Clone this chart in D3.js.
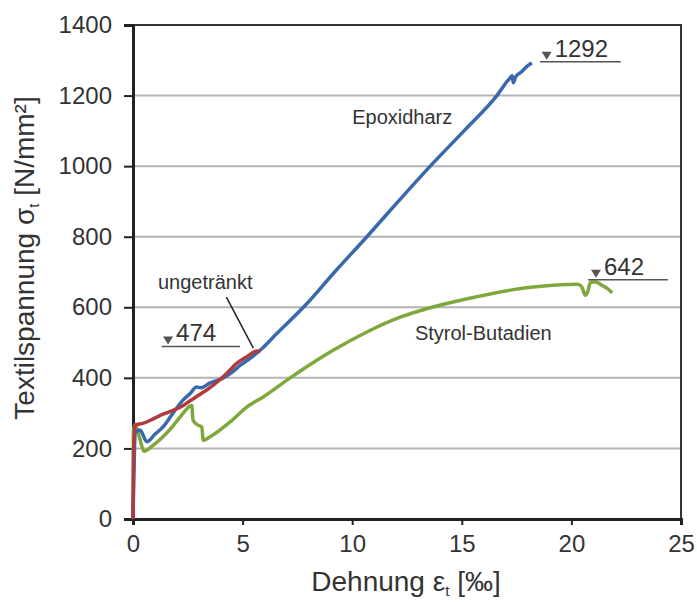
<!DOCTYPE html>
<html>
<head>
<meta charset="utf-8">
<script src="https://cdn.jsdelivr.net/npm/d3@7/dist/d3.min.js"></script>
<style>
  body { margin: 0; background: #fff; }
  svg { display: block; font-family: "Liberation Sans", Arial, sans-serif; }
</style>
</head>
<body>
<svg width="697" height="603"></svg>
<script>
// strain [‰] and stress [N/mm²]
const epoxyX = [0, 0.05, 0.1, 0.32, 0.63, 1.0, 1.37, 1.8, 2.28, 2.6, 2.9, 3.1, 3.5, 4.1, 4.5, 4.9, 5.4, 5.95, 6.5, 7.85, 9.2, 10.67, 12.1, 13.56, 15.1, 16.6, 17.2, 17.3, 17.35, 17.45, 17.7, 18.0, 18.2];
const epoxyY = [0, 150, 245, 252, 219, 240, 261, 298, 337, 355, 374, 372, 385, 399, 415, 436, 458, 487, 522, 605, 700, 800, 900, 1000, 1100, 1200, 1250, 1256, 1236, 1252, 1266, 1284, 1292];

const dryX = [0, 0.03, 0.1, 0.45, 0.9, 1.37, 1.83, 2.2, 2.6, 3.1, 3.65, 4.2, 4.73, 5.2, 5.65, 5.8];
const dryY = [0, 200, 266, 271, 283, 297, 308, 318, 335, 355, 379, 408, 441, 460, 476, 474];

const sbrX = [0, 0.02, 0.1, 0.3, 0.5, 0.9, 1.37, 1.8, 2.15, 2.68, 2.74, 2.97, 3.14, 3.2, 3.52, 4.43, 5.2, 5.94, 7.17, 7.6, 9.13, 10.67, 12.19, 13.4, 15.24, 17.35, 19.5, 20.25, 20.45, 20.64, 20.75, 20.87, 21.1, 21.4, 21.6, 21.86];
const sbrY = [0, 250, 268, 230, 192, 208, 233, 262, 289, 322, 280, 266, 261, 223, 233, 275, 318, 346, 400, 418, 478, 530, 572, 596, 624, 650, 664, 665, 660, 634, 645, 671, 672, 662, 655, 641];

const xTicks = [0, 5, 10, 15, 20, 25];
const yTicks = [0, 200, 400, 600, 800, 1000, 1200, 1400];

// curve names and where they sit (data units)
const curveLabels = ["Epoxidharz", "ungetränkt", "Styrol-Butadien"];
const curveLabelX = [10.0, 1.14, 12.86];
const curveLabelY = [1120, 653, 506];

// max stress markers: value, triangle at x, underline from..to, underline level
const maxLabels = ["474", "1292", "642"];
const maxTriX = [1.6, 18.87, 21.12];
const maxLineFrom = [1.31, 18.57, 20.76];
const maxLineTo = [4.88, 22.25, 24.4];
const maxLineY = [489, 1296, 678];

const svg = d3.select("svg");
const margin = { top: 25, right: 16, bottom: 84, left: 133 };
const W = 697, H = 603;

const x = d3.scaleLinear().domain([0, 25]).range([margin.left, W - margin.right]);
const y = d3.scaleLinear().domain([0, 1400]).range([H - margin.bottom, margin.top]);

// grid
svg.append("g")
  .selectAll("line")
  .data(yTicks.slice(1, -1))
  .enter()
  .append("line")
  .attr("x1", x(0)).attr("x2", x(25))
  .attr("y1", d => y(d)).attr("y2", d => y(d))
  .attr("stroke", "#b4b4b4")
  .attr("stroke-width", 2);

// frame top / right
svg.append("path")
  .attr("d", `M${x(0)},${y(1400)}H${x(25)}V${y(0)}`)
  .attr("fill", "none")
  .attr("stroke", "#333")
  .attr("stroke-width", 2);

const yAxis = svg.append("g")
  .attr("transform", `translate(${x(0)},0)`)
  .call(d3.axisLeft(y).tickValues(yTicks).tickFormat(d3.format("d")).tickSize(9).tickPadding(12));
const xAxis = svg.append("g")
  .attr("transform", `translate(0,${y(0)})`)
  .call(d3.axisBottom(x).tickValues(xTicks).tickFormat(d3.format("d")).tickSize(6).tickPadding(10));

[yAxis, xAxis].forEach(a => {
  a.select(".domain").attr("stroke", "#222").attr("stroke-width", 3);
  a.selectAll(".tick line").attr("stroke", "#222").attr("stroke-width", 2);
  a.selectAll(".tick text")
    .attr("fill", "#333")
    .attr("font-size", 24)
    .attr("font-family", "Liberation Sans, Arial, sans-serif");
});

// curves
const line = d3.line().curve(d3.curveMonotoneX).x(d => x(d[0])).y(d => y(d[1]));
const series = [
  { xs: sbrX, ys: sbrY, color: "#7fa83c" },
  { xs: epoxyX, ys: epoxyY, color: "#3a68ad" },
  { xs: dryX, ys: dryY, color: "#b03a3e" }
];
svg.append("g")
  .selectAll("path")
  .data(series)
  .enter()
  .append("path")
  .attr("d", s => line(s.xs.map((v, i) => [v, s.ys[i]])))
  .attr("fill", "none")
  .attr("stroke", s => s.color)
  .attr("stroke-width", 3.5)
  .attr("stroke-linejoin", "round");

// curve labels
svg.append("g")
  .selectAll("text")
  .data(curveLabels)
  .enter()
  .append("text")
  .attr("x", (d, i) => x(curveLabelX[i]))
  .attr("y", (d, i) => y(curveLabelY[i]))
  .attr("font-size", 20)
  .attr("fill", "#333")
  .text(d => d);

// leader line for "ungetränkt"
svg.append("line")
  .attr("x1", x(4.26)).attr("y1", y(629))
  .attr("x2", x(5.49)).attr("y2", y(484))
  .attr("stroke", "#222")
  .attr("stroke-width", 1.5);

// max markers
const marks = svg.append("g")
  .selectAll("g")
  .data(maxLabels)
  .enter()
  .append("g");
marks.append("line")
  .attr("x1", (d, i) => x(maxLineFrom[i]))
  .attr("x2", (d, i) => x(maxLineTo[i]))
  .attr("y1", (d, i) => y(maxLineY[i]))
  .attr("y2", (d, i) => y(maxLineY[i]))
  .attr("stroke", "#555")
  .attr("stroke-width", 1.5);
marks.append("path")
  .attr("d", (d, i) => {
    const cx = x(maxTriX[i]), cy = y(maxLineY[i]) - 2;
    return `M${cx - 5},${cy - 8}H${cx + 5}L${cx},${cy}Z`;
  })
  .attr("fill", "#555");
marks.append("text")
  .attr("x", (d, i) => x(maxTriX[i]) + 8)
  .attr("y", (d, i) => y(maxLineY[i]) - 5)
  .attr("font-size", 24)
  .attr("fill", "#333")
  .text(d => d);

// axis titles
const yTitle = svg.append("text")
  .attr("transform", "translate(34,258) rotate(-90)")
  .attr("text-anchor", "middle")
  .attr("font-size", 28)
  .attr("fill", "#333");
yTitle.append("tspan").text("Textilspannung σ");
yTitle.append("tspan").attr("font-size", 15).attr("dy", 5).text("t");
yTitle.append("tspan").attr("dy", -5).text(" [N/mm²]");

const xTitle = svg.append("text")
  .attr("x", 406)
  .attr("y", 591)
  .attr("text-anchor", "middle")
  .attr("font-size", 28)
  .attr("fill", "#333");
xTitle.append("tspan").text("Dehnung ε");
xTitle.append("tspan").attr("font-size", 15).attr("dy", 5).text("t");
xTitle.append("tspan").attr("dy", -5).text(" [‰]");
</script>
</body>
</html>
